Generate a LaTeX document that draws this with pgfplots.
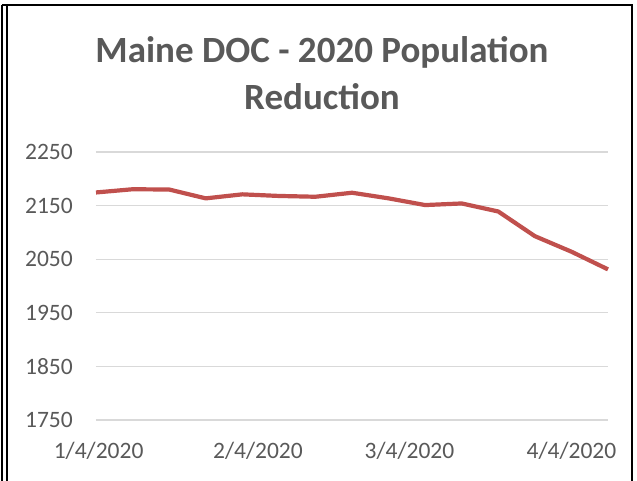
\documentclass[border=0pt]{standalone}
\usepackage{pgfplots}
\pgfplotsset{compat=1.18}
\usepackage{fontspec}
\setmainfont{Carlito}
\definecolor{linered}{HTML}{C0504D}
\definecolor{gridgray}{HTML}{D9D9D9}
\definecolor{txtgray}{HTML}{595959}
\begin{document}
\begin{tikzpicture}
\useasboundingbox (-96bp,-61bp) rectangle (541bp,420bp);
\begin{axis}[
  at={(0,0)}, anchor=south west,
  scale only axis,
  width=512bp, height=268bp,
  xmin=0, xmax=98,
  ymin=1750, ymax=2250,
  ytick={1750,1850,1950,2050,2150,2250},
  xtick={0.5,31,60,91},
  xticklabels={1/4/2020,2/4/2020,3/4/2020,4/4/2020},
  ymajorgrids,
  grid style={gridgray, line width=1.3bp},
  axis line style={draw=none},
  major tick length=0pt,
  /pgf/number format/assume math mode=true,
  /pgf/number format/1000 sep={},
  ticklabel style={font=\fontsize{23.5bp}{27bp}\selectfont, text=txtgray},
  yticklabel style={anchor=east, inner sep=0pt, xshift=-23bp},
  xticklabel style={anchor=north, inner sep=0pt, yshift=-22bp},
  clip=false,
]
\addplot[linered, line width=4.2bp, line join=round] coordinates {
(0,2174.5) (7,2180.5) (14,2180) (21,2163.5) (28,2171) (35,2168) (42,2166.5)
(49,2174) (56,2163.5) (63,2151) (70,2154) (77,2139) (84,2093) (91,2064) (98,2031)
};
\end{axis}
\node[text=txtgray, font=\fontsize{37bp}{47bp}\selectfont\bfseries, align=center] at (226bp,347bp) {Maine DOC - 2020 Population\\Reduction};
\draw[black, line width=1.2bp] (-94bp,-61bp) -- (-94bp,415bp);
\draw[black, line width=1.5bp] (-89bp,-61bp) -- (-89bp,415bp) -- (536bp,415bp) -- (536bp,-61bp);
\draw[black, line width=1.2bp] (-94bp,415bp) -- (-89bp,415bp);
\end{tikzpicture}
\end{document}
